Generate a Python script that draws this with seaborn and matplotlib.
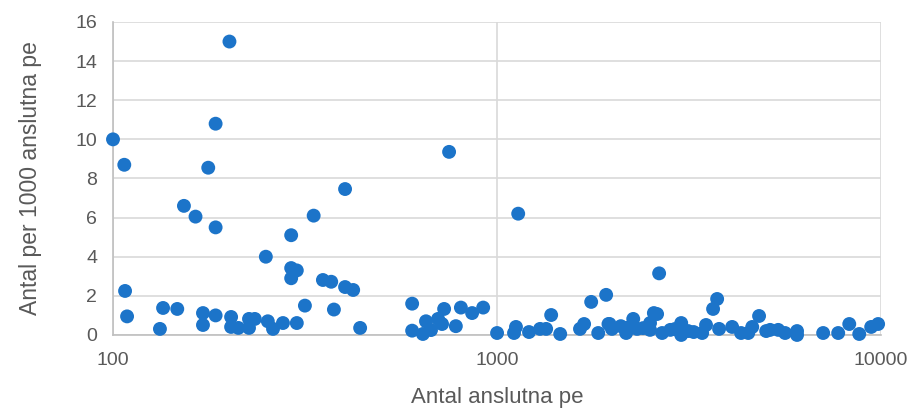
import matplotlib
matplotlib.use("Agg")
import matplotlib.pyplot as plt
from matplotlib.ticker import FixedLocator, FixedFormatter, NullLocator
import seaborn as sns
import pandas as pd

anslutna_pe = [
    100, 107, 201, 185, 177, 402, 153, 164, 333, 185, 291, 250, 291, 301, 291,
    352, 370, 402, 422, 107.5, 108.8, 135, 147, 132.5, 171.5, 171.5, 185, 203,
    203, 212, 226, 234, 226, 253, 261, 277, 301, 316, 376, 440,
    750, 1135, 2642, 601, 601, 641, 653, 673, 702, 719, 728, 781, 805, 861, 920,
    1000, 1107, 1120, 1211, 1294, 1342, 1383, 1460, 1644, 1685, 1758, 1834,
    1923, 1950, 1991, 2168, 2168, 2262, 2315, 2502, 2502, 2610, 2690, 2825,
    3016, 3016, 1963, 2100, 2400, 2560, 2900, 3250,
    3741, 3651, 3143, 3420, 3500, 3785, 4093, 4318, 4508, 4617, 4810, 5020,
    5140, 5395, 5623, 6040, 6040, 7063, 7730, 8260, 8770, 9420, 9820,
]
antal_per_1000 = [
    10.0, 8.7, 15.0, 10.8, 8.55, 7.46, 6.6, 6.05, 6.1, 5.5, 5.1, 4.0, 3.42, 3.3, 2.9,
    2.81, 2.72, 2.45, 2.3, 2.25, 0.95, 1.38, 1.33, 0.31, 1.12, 0.51, 1.0, 0.92,
    0.41, 0.36, 0.82, 0.82, 0.36, 0.7, 0.31, 0.61, 0.61, 1.5, 1.3, 0.36,
    9.36, 6.2, 3.15, 1.6, 0.22, 0.05, 0.7, 0.25, 0.82, 0.56, 1.33, 0.45, 1.4, 1.12, 1.4,
    0.1, 0.1, 0.41, 0.15, 0.31, 0.31, 1.02, 0.05, 0.31, 0.56, 1.69, 0.1,
    2.05, 0.56, 0.31, 0.1, 0.36, 0.82, 0.31, 0.26, 0.61, 1.07, 0.1, 0.26,
    0.61, 0.0, 0.56, 0.45, 0.35, 1.12, 0.3, 0.15,
    1.84, 1.33, 0.2, 0.1, 0.51, 0.31, 0.41, 0.1, 0.1, 0.41, 0.97, 0.2,
    0.26, 0.26, 0.1, 0.2, 0.0, 0.1, 0.1, 0.56, 0.05, 0.41, 0.56,
]
x_ticks = [100, 1000, 10000]
x_tick_labels = ["100", "1000", "10000"]
y_ticks = [0, 2, 4, 6, 8, 10, 12, 14, 16]

df = pd.DataFrame({"pe": anslutna_pe, "antal": antal_per_1000})

sns.set_theme(style="white")
plt.rcParams["font.family"] = ["Liberation Sans", "DejaVu Sans"]

fig = plt.figure(figsize=(9.15, 4.11), dpi=100)
ax = fig.add_axes([0.1235, 0.185, 0.8395, 0.7615])

grid_c = "#D9D9D9"
ax.set_xscale("log")
ax.set_xlim(100, 10000)
ax.set_ylim(0, 16)
ax.xaxis.set_major_locator(FixedLocator(x_ticks))
ax.xaxis.set_major_formatter(FixedFormatter(x_tick_labels))
ax.xaxis.set_minor_locator(NullLocator())
ax.set_yticks(y_ticks)
ax.grid(True, color=grid_c, linewidth=1.2)
ax.set_axisbelow(True)

sns.scatterplot(data=df, x="pe", y="antal", ax=ax, s=100, color="#1C74C9",
                edgecolor="none", linewidth=0, clip_on=False, zorder=3)

for side in ["top", "right"]:
    ax.spines[side].set_visible(False)
ax.spines["left"].set_color("#BFBFBF")
ax.spines["bottom"].set_color("#BFBFBF")
ax.spines["left"].set_linewidth(1.2)
ax.spines["bottom"].set_linewidth(1.2)

ax.tick_params(axis="both", length=0, labelsize=14, labelcolor="#595959")
ax.tick_params(axis="x", pad=12)
ax.tick_params(axis="y", pad=11.5)

ax.set_xlabel("Antal anslutna pe", fontsize=16, color="#595959", labelpad=13)
ax.set_ylabel("Antal per 1000 anslutna pe", fontsize=16.5, color="#595959", labelpad=24)

fig.savefig("out.png", dpi=100)
